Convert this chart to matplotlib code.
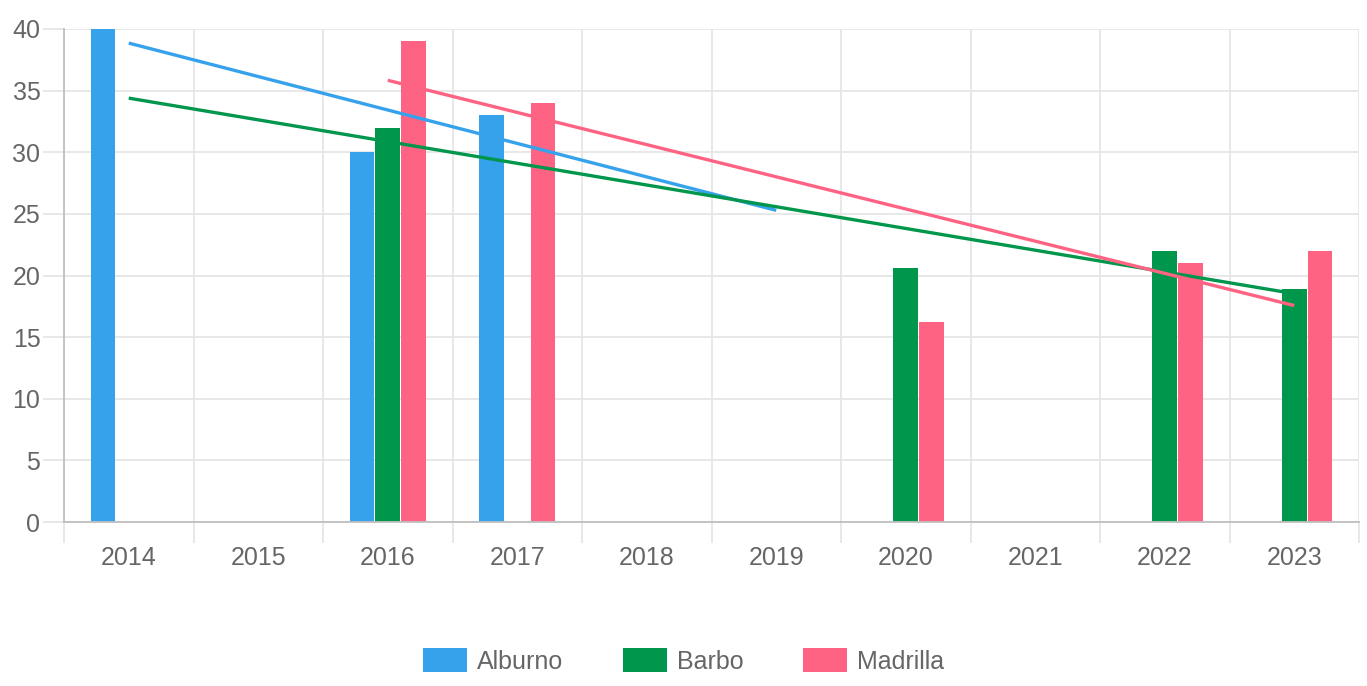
import numpy as np
import matplotlib
matplotlib.use("Agg")
import matplotlib.pyplot as plt
from matplotlib.ticker import FixedLocator

# data
years = ['2014', '2015', '2016', '2017', '2018', '2019', '2020', '2021', '2022', '2023']
species = ['Alburno', 'Barbo', 'Madrilla']
alburno = [40, None, 30, 33, None, None, None, None, None, None]
barbo = [None, None, 32, None, None, None, 20.6, None, 22, 18.9]
madrilla = [None, None, 39, 34, None, None, 16.2, None, 21, 22]
colors = ['#36A2EB', '#00964B', '#FF6384']
# span over which each trend line is drawn
trend_from = ['2014', '2014', '2016']
trend_to = ['2019', '2023', '2023']

plt.rcParams['font.family'] = ['Liberation Sans', 'DejaVu Sans']
text_color = '#666666'
grid_color = '#e6e6e6'

fig = plt.figure(figsize=(13.67, 6.86), dpi=100)
ax = fig.add_axes([64/1367, 1-522/686, (1359-64)/1367, (522-29)/686])

series = [alburno, barbo, madrilla]
x = np.arange(len(years))
slot = 0.2
width = 0.19
for i, (name, vals, col) in enumerate(zip(species, series, colors)):
    xs = [xi for xi, v in zip(x, vals) if v is not None]
    ys = [v for v in vals if v is not None]
    off = (i - 1) * slot
    ax.bar(np.array(xs) + off, ys, width=width, color=col, label=name, zorder=2)
    # linear trend fitted to the points present
    slope, icpt = np.polyfit(xs, ys, 1)
    t0 = years.index(trend_from[i])
    t1 = years.index(trend_to[i])
    tx = np.array([t0, t1])
    ax.plot(tx, slope*tx + icpt, color=col, lw=2.4, zorder=3,
            solid_capstyle='butt')

ax.set_xlim(-0.5, len(years) - 0.5)
ax.set_ylim(0, 40)
ax.set_yticks(np.arange(0, 41, 5))
ax.set_xticks(x)
ax.set_xticklabels(years)
ax.xaxis.set_minor_locator(FixedLocator(np.arange(-0.5, len(years), 1)))

ax.grid(False)
ax.yaxis.grid(True, color=grid_color, lw=1.3, zorder=0)
ax.xaxis.grid(True, which='minor', color=grid_color, lw=1.3, zorder=0)
ax.tick_params(axis='x', which='major', length=0, pad=17.5, labelsize=18, labelcolor=text_color)
ax.tick_params(axis='x', which='minor', length=15, color=grid_color, width=1.3)
ax.tick_params(axis='y', length=15, color=grid_color, width=1.3, pad=2,
               labelsize=18, labelcolor=text_color)

for s in ['top', 'right']:
    ax.spines[s].set_visible(False)
ax.spines['left'].set_color('#bfbfbf')
ax.spines['bottom'].set_color('#bfbfbf')
ax.spines['left'].set_linewidth(1.3)
ax.spines['bottom'].set_linewidth(1.3)
ax.set_axisbelow(True)

fig.legend(loc='center', bbox_to_anchor=(0.5, 1-661/686), ncol=3, frameon=False,
           fontsize=18, labelcolor=text_color, handlelength=1.75, handleheight=1.08,
           handletextpad=0.4, columnspacing=2.4)

fig.savefig('out.png', dpi=100)
